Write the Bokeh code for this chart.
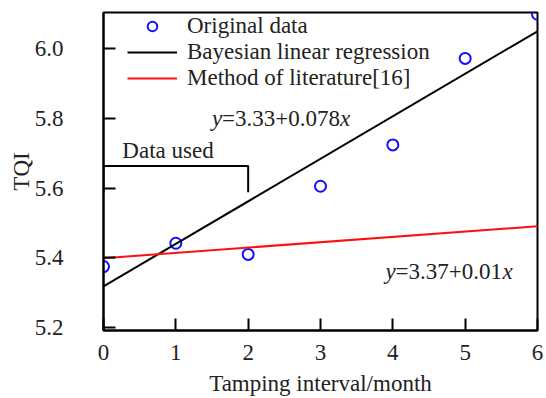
from bokeh.plotting import figure
from bokeh.models import Range1d, FixedTicker, Legend, LegendItem, PrintfTickFormatter, Label
from bokeh.embed import file_html
from bokeh.resources import INLINE

# ---- data ----
months = [0, 1, 2, 3, 4, 5, 6]
tqi = [5.374, 5.441, 5.409, 5.605, 5.724, 5.973, 6.100]

bayes_x = [0, 6]
bayes_y = [5.317, 6.051]

lit_x = [0, 6]
lit_y = [5.398, 5.490]

bracket_x = [0, 0, 2, 2]
bracket_y = [5.588, 5.663, 5.663, 5.588]

x_ticks = [0, 1, 2, 3, 4, 5, 6]
y_ticks = [5.2, 5.4, 5.6, 5.8, 6.0]

legend_labels = ["Original data", "Bayesian linear regression", "Method of literature[16]"]
x_label = "Tamping interval/month"
y_label = "TQI"

note_text = ["Data used"]
note_x = [0.26]
note_y = [5.709]

# equations: italic variable, plain middle, italic variable
eq_x = [1.5, 3.9]
eq_y = [5.801, 5.361]
eq_var_y = ["y", "y"]
eq_mid = ["=3.33+0.078", "=3.37+0.01"]
eq_var_x = ["x", "x"]
eq_mid_offset = [10, 10]
eq_x_offset = [128, 117]

FONT = "Liberation Serif"
LFONT = "Times New Roman"
FS = "23px"
TXT = "#222222"

p = figure(width=546, height=398, output_backend="svg", toolbar_location=None,
           x_range=Range1d(0, 6), y_range=Range1d(5.19, 6.105),
           min_border_left=103, min_border_right=9, min_border_top=12, min_border_bottom=68)
p.background_fill_color = "white"
p.border_fill_color = "white"
p.grid.visible = False
p.outline_line_color = "black"
p.outline_line_width = 2

for ax in (p.xaxis[0], p.yaxis[0]):
    ax.axis_line_color = "black"
    ax.axis_line_width = 2
    ax.major_tick_line_color = "black"
    ax.major_tick_line_width = 2
    ax.major_tick_in = 12
    ax.major_tick_out = 0
    ax.minor_tick_line_color = None
    ax.major_label_text_font = FONT
    ax.major_label_text_font_size = FS
    ax.major_label_text_color = TXT
    ax.axis_label_text_font = FONT
    ax.axis_label_text_font_size = FS
    ax.axis_label_text_font_style = "normal"
    ax.axis_label_text_color = TXT

p.xaxis.ticker = FixedTicker(ticks=x_ticks)
p.yaxis.ticker = FixedTicker(ticks=y_ticks)
p.yaxis.formatter = PrintfTickFormatter(format="%.1f")
p.xaxis.axis_label = x_label
p.yaxis.axis_label = y_label
p.xaxis.major_label_standoff = 14
p.xaxis.axis_label_standoff = 8
p.yaxis.major_label_standoff = 40
p.yaxis.axis_label_standoff = -2

r_pts = p.scatter(months, tqi, size=11, marker="circle", fill_color=None,
                  line_color="#1010ff", line_width=2)
r_bayes = p.line(bayes_x, bayes_y, line_color="black", line_width=2)
r_lit = p.line(lit_x, lit_y, line_color="#ff1010", line_width=2)

p.line(bracket_x, bracket_y, line_color="black", line_width=2)

for t, x, y in zip(note_text, note_x, note_y):
    p.add_layout(Label(x=x, y=y, text=t, text_font=LFONT, text_font_size=FS,
                       text_baseline="alphabetic", text_color=TXT))

for i in range(len(eq_x)):
    p.add_layout(Label(x=eq_x[i], y=eq_y[i], text=eq_var_y[i], text_font=LFONT,
                       text_font_size=FS, text_font_style="italic",
                       text_baseline="alphabetic", text_color=TXT))
    p.add_layout(Label(x=eq_x[i], y=eq_y[i], text=eq_mid[i], text_font=LFONT,
                       text_font_size=FS, x_offset=eq_mid_offset[i],
                       text_baseline="alphabetic", text_color=TXT))
    p.add_layout(Label(x=eq_x[i], y=eq_y[i], text=eq_var_x[i], text_font=LFONT,
                       text_font_size=FS, text_font_style="italic",
                       x_offset=eq_x_offset[i], text_baseline="alphabetic",
                       text_color=TXT))

legend = Legend(items=[LegendItem(label=legend_labels[0], renderers=[r_pts]),
                       LegendItem(label=legend_labels[1], renderers=[r_bayes]),
                       LegendItem(label=legend_labels[2], renderers=[r_lit])],
                location=(24, 239))
legend.label_text_font = FONT
legend.label_text_font_size = FS
legend.label_text_color = TXT
legend.glyph_width = 50
legend.glyph_height = 24
legend.label_height = 24
legend.label_standoff = 10
legend.spacing = 0
legend.padding = 0
legend.margin = 0
legend.border_line_color = None
legend.background_fill_alpha = 0
p.add_layout(legend)

open("out.html", "w").write(file_html(p, INLINE))
